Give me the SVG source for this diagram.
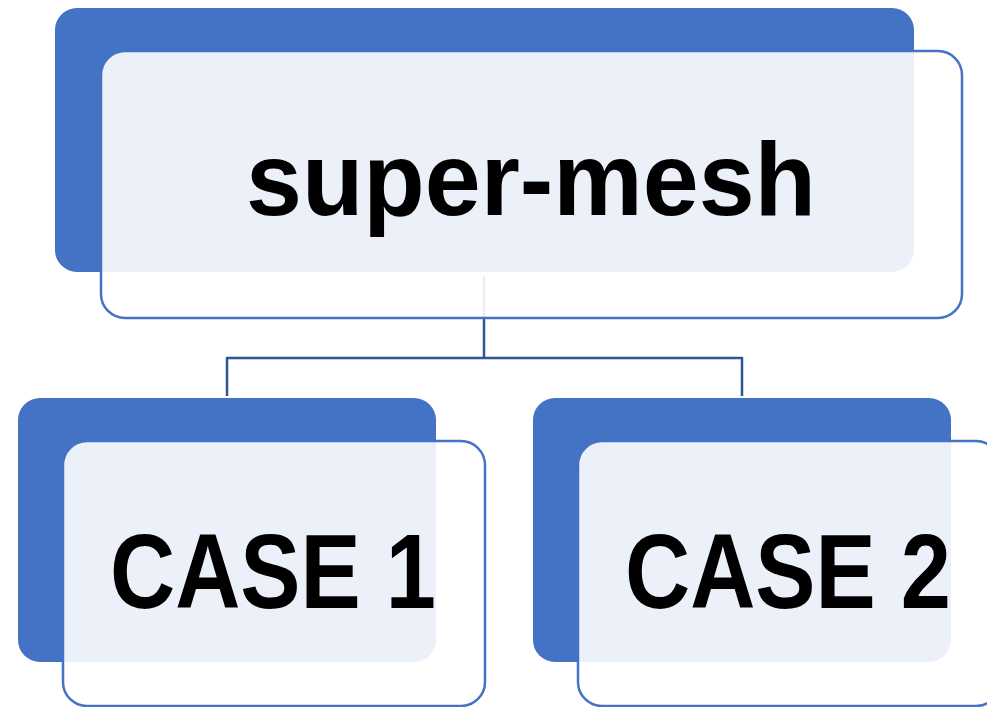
<svg xmlns="http://www.w3.org/2000/svg" width="987" height="707" viewBox="0 0 987 707">
<style>
.back{fill:#4472C4;}
.front{fill:#FFFFFF;fill-opacity:0.9;stroke:#4472C4;stroke-width:2.5;}
.conn{fill:none;stroke:#2F5597;stroke-width:2.5;}
.lbl{font-family:"Liberation Sans",Arial,sans-serif;font-weight:bold;fill:#000000;text-anchor:middle;}
</style>
<rect width="987" height="707" fill="#FFFFFF"/>
<g id="connectors">
<path class="conn" d="M484,276 V358 M227,358 H742 M227,357 V396 M742,357 V396"/>
</g>
<g id="node-super-mesh">
<rect class="back" x="55" y="8" width="859" height="264" rx="22"/>
<rect class="front" x="101" y="51" width="861" height="267" rx="24"/>
<text class="lbl" x="531" y="215" font-size="104" textLength="570" lengthAdjust="spacingAndGlyphs">super-mesh</text>
</g>
<g id="node-case1">
<rect class="back" x="18" y="398" width="418" height="264" rx="22"/>
<rect class="front" x="63" y="441" width="422" height="265" rx="24"/>
<text class="lbl" x="273" y="608" font-size="105" textLength="326" lengthAdjust="spacingAndGlyphs">CASE 1</text>
</g>
<g id="node-case2">
<rect class="back" x="533" y="398" width="418" height="264" rx="22"/>
<rect class="front" x="578" y="441" width="422" height="265" rx="24"/>
<text class="lbl" x="788" y="608" font-size="105" textLength="326" lengthAdjust="spacingAndGlyphs">CASE 2</text>
</g>
</svg>
